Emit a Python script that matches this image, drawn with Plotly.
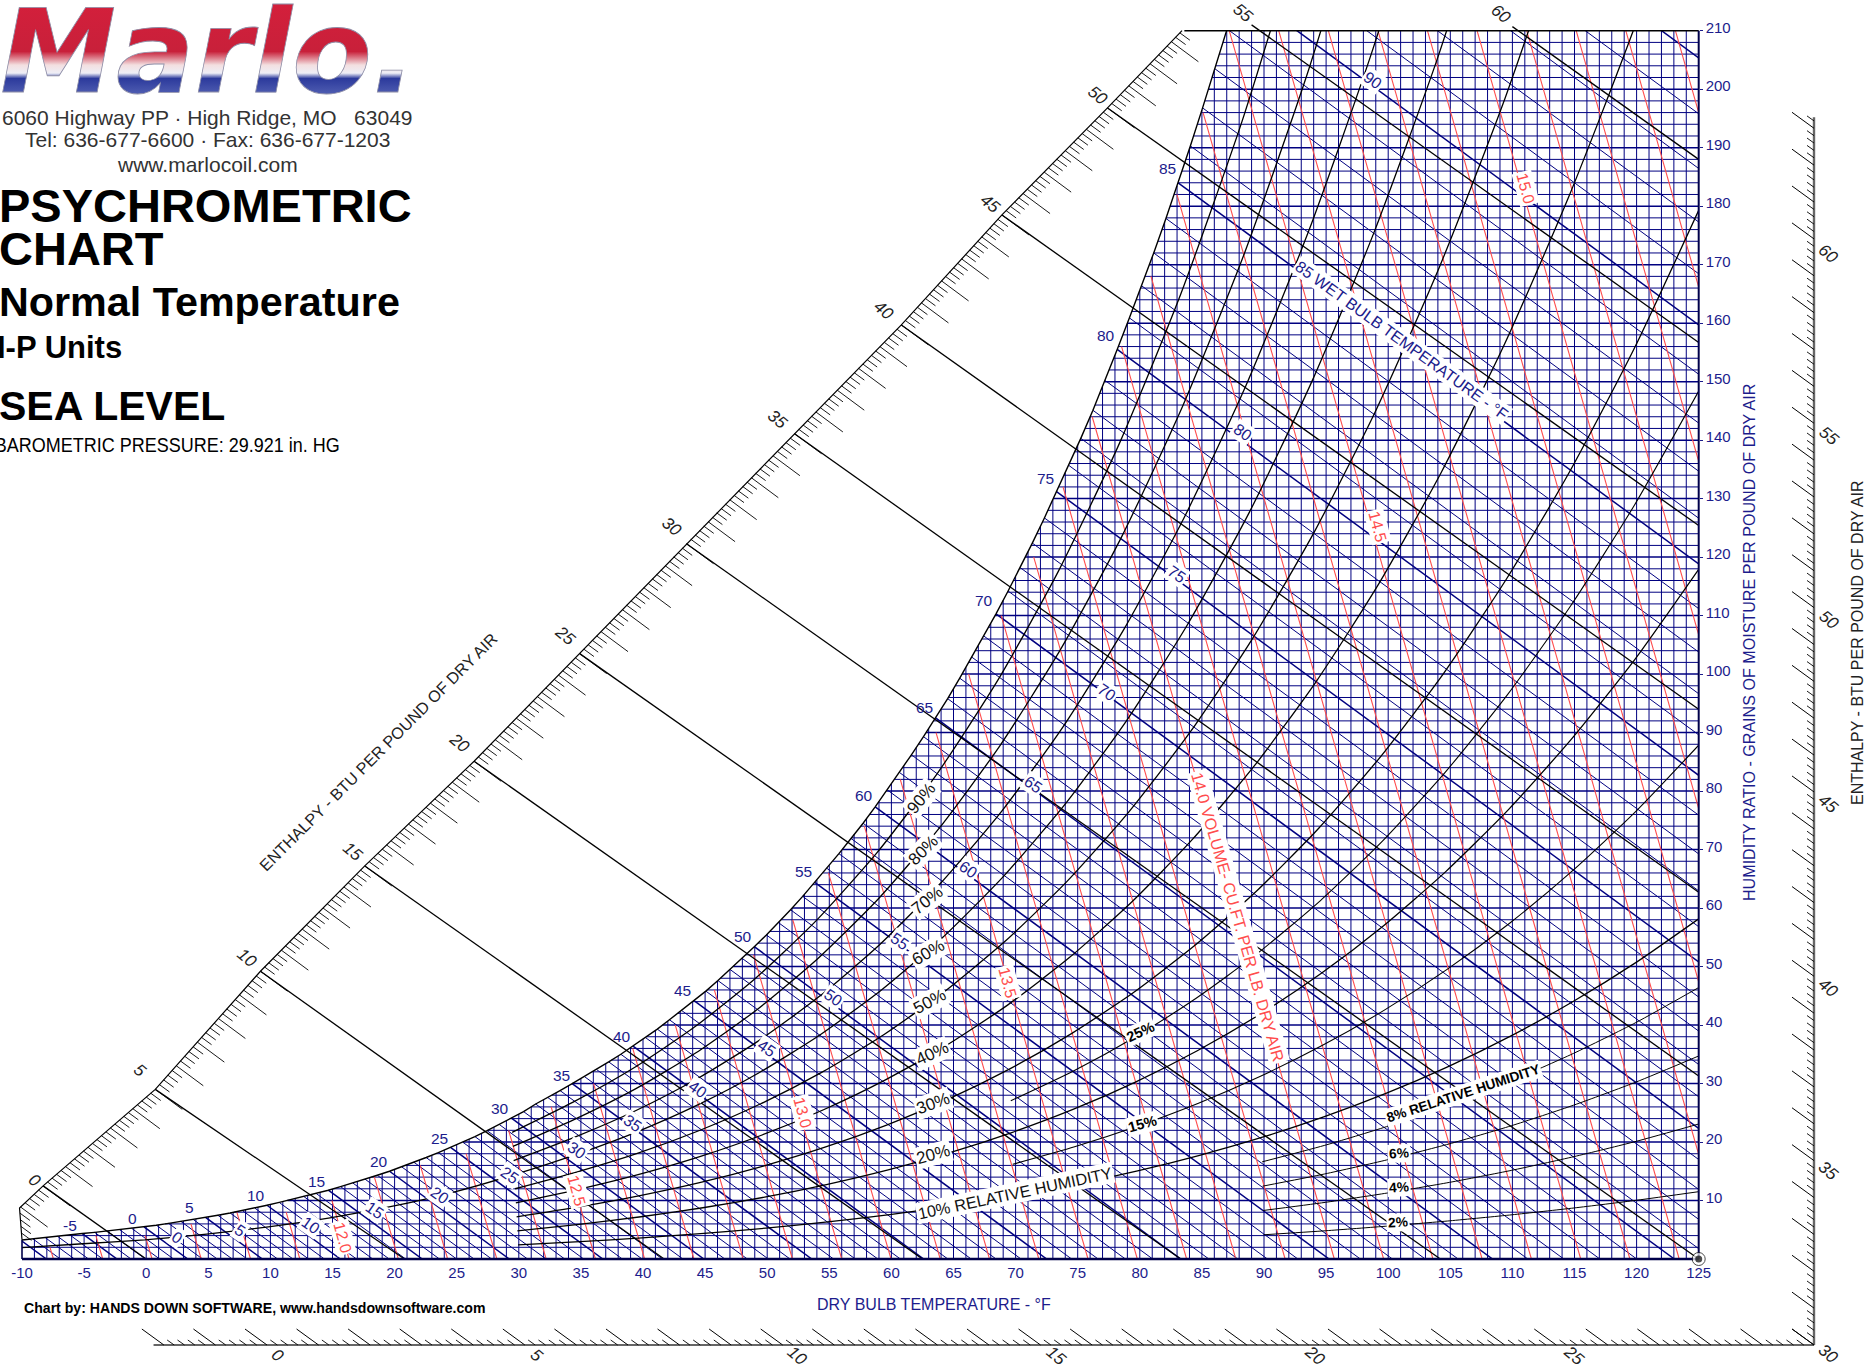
import numpy as np
import plotly.graph_objects as go

# ---------------- data ----------------
dry_bulb_ticks = list(range(-10, 130, 5))
grain_ticks = list(range(10, 220, 10))

# saturation: wet bulb (deg F) and grains per lb at saturation
sat_deg = list(range(-10, 99))
sat_grains = [3.23,3.43,3.65,3.87,4.10,4.35,4.56,4.80,5.05,5.25,5.48,5.78,6.09,6.42,6.76,7.11,7.48,7.87,8.28,8.72,
              9.19,9.67,10.17,10.69,11.22,11.76,12.38,13.00,13.65,14.32,15.0,15.75,16.54,17.35,18.2,19.07,19.98,20.93,21.94,23.0,
              24.1,25.2,26.5,27.6,28.8,30.0,31.2,32.4,33.7,35.0,36.4,37.9,39.3,40.9,42.5,44.2,45.8,47.6,49.5,51.4,
              53.4,55.4,57.5,59.7,62.0,64.4,66.8,69.3,71.9,74.5,77.3,80.2,83.2,86.2,89.3,92.5,95.8,99.3,102.9,106.5,
              110.3,114.2,118.2,122.4,126.7,131.2,135.7,140.3,145.1,150.2,155.5,160.9,166.4,172.0,177.9,184.0,190.3,196.8,203.5,210.3,
              217.2,224.4,231.7,239.3,247.1,255.1,263.3,271.7,280.4]

rh_t30 = list(range(30, 130, 5))
rh90 = [21.66,26.81,32.69,39.70,48.0,57.85,69.43,83.04,99.0,117.69,139.49,164.9,194.5,228.8]
rh80 = [19.24,23.82,29.04,35.25,42.62,51.34,61.6,73.66,87.78,104.3,123.55,145.97,172.0,202.2,237.2]
rh70 = [16.83,20.83,25.39,30.82,37.25,44.86,53.81,64.32,76.62,90.98,107.73,127.2,149.77,175.92,206.16,241.1]
rh60_low_t = [-10,-5,0,5,10,15,20,25]
rh60_low = [1.94,2.61,3.28,4.26,5.5,7.04,8.98,11.4]
rh60 = [14.42,17.84,21.75,26.39,31.89,38.39,46.04,55.0,65.51,77.76,92.01,108.57,127.74,149.92,175.52,205.06,239.07]
rh50 = [12.01,14.86,18.1,21.97,26.54,31.95,38.3,45.75,54.45,64.6,76.41,90.11,105.94,124.23,145.29,169.56,197.41,229.33]
rh40 = [9.6,11.87,14.47,17.55,21.2,25.52,30.58,36.52,43.45,51.53,60.91,71.78,84.34,98.81,115.46,134.6,156.51,181.55,209.98,242.38]
rh30 = [7.2,8.9,10.85,13.15,15.89,19.11,22.9,27.33,32.51,38.54,45.52,53.62,62.95,73.69,86.03,100.17,116.34,134.76,155.61,179.29]
rh20 = [4.8,5.93,7.22,8.76,10.58,12.73,15.24,18.19,21.62,25.61,30.25,35.6,41.77,48.85,56.98,66.27,76.87,88.92,102.52,117.91]
rh10 = [2.4,2.96,3.61,4.37,5.28,6.35,7.6,9.07,10.78,12.77,15.07,17.73,20.78,24.29,28.3,32.89,38.1,44.02,50.67,58.16]
rh_t70 = list(range(70, 130, 5))
rh25 = [27.06,32.06,37.88,44.59,52.33,61.24,71.45,83.16,96.52,111.72,128.91,148.39]
rh15 = [16.19,19.18,22.65,26.64,31.25,36.53,42.59,49.52,57.41,66.36,76.44,87.84]
rh_t90 = list(range(90, 130, 5))
rh8 = [16.61,19.41,22.62,26.27,30.43,35.14,40.43,46.41]
rh6 = [12.45,14.54,16.94,19.67,22.78,26.3,30.26,34.71]
rh4 = [8.29,9.68,11.28,13.1,15.16,17.5,20.12,23.08]
rh2 = [4.14,4.83,5.63,6.53,7.56,8.73,10.04,11.51]

# enthalpy: value, start on the left scale (T, W), end on the chart edge (T, W)
enth_value = [0,5,10,15,20,25,30,35,40,45,50,55,60]
enth_start_T = [-8.3,0.73,9.2,17.6,26.4,34.9,43.5,52.2,60.8,68.9,77.4,89.0,110.0]
enth_start_W = [12.5,29.0,49.2,67.2,85.1,103.5,122.3,141.1,159.7,178.5,196.8,211.0,210.7]
enth_end_T = [0,20.8,41.7,62.5,83.3,104.2,125,125,125,125,125,125,125]
enth_end_W = [0,0,0,0,0,0,0,31.3,62.7,94,125.4,156.7,188]
left_scale_h = [-2,-1.05,0,5,10,15,20,25,30,35,40,45,50,53.5]
left_scale_T = [-10,-10.2,-8.3,0.73,9.2,17.6,26.4,34.9,43.5,52.2,60.8,68.9,77.4,83.4]
left_scale_W = [3.3,8.7,12.5,29.0,49.2,67.2,85.1,103.5,122.3,141.1,159.7,178.5,196.8,210]

# specific volume: value and dry bulb where the line meets zero moisture
vol_value = [round(11.4+0.1*i,1) for i in range(41)]
vol_base_T = [-7.47,-3.5,.47,4.43,8.4,12.37,16.33,20.3,24.27,28.23,32.2,36.17,40.13,44.1,48.07,52.03,56.0,59.97,63.93,67.9,
              71.87,75.83,79.8,83.77,87.73,91.7,95.66,99.63,103.6,107.56,111.53,115.5,119.46,123.43,127.4,131.36,135.33,139.3,143.26,147.23,151.2]

WB_SLOPE = 1.555      # grains per deg F along a wet bulb line
TILT = 0.00026        # lean of the dry-bulb scale with moisture
NAVY = "#000080"; TXT = "#1c1c8c"; RED = "#ff4d4d"; FONT = "Liberation Sans"

# ---------------- geometry ----------------
L, R, T_, B = 22.0, 1698.7, 30.7, 1259.0
W_, H_ = 1873, 1365
SX = (R-L)/135.0; SY = (B-T_)/210.0
def px(x, y): return (x-L)/SX-10, (B-y)/SY
def lean(t, w): return np.asarray(t, float)-(125-np.asarray(t, float))*np.asarray(w, float)*TILT

sat_T = lean(sat_deg, sat_grains); sat_W = np.array(sat_grains)
def sat_T_at(w): return np.interp(w, sat_W, sat_T)
def sat_W_at(t): return np.interp(t, sat_T, sat_W)

fig = go.Figure()
def segs(xs, ys, color, width, clip=True):
    X, Y = [], []
    for a, b in zip(xs, ys):
        X += list(a)+[None]; Y += list(b)+[None]
    # clip=False traces go on the page-wide pair of axes, which share the chart's units
    fig.add_trace(go.Scatter(x=X, y=Y, mode="lines", line=dict(color=color, width=width),
                             xaxis="x" if clip else "x2", yaxis="y" if clip else "y2",
                             hoverinfo="skip", showlegend=False))

# grid
ws = list(range(2, 210, 2))
segs([[float(sat_T_at(w)), 125] for w in ws if w % 10], [[w, w] for w in ws if w % 10], NAVY, 1)
segs([[float(sat_T_at(w)), 125] for w in ws if not w % 10], [[w, w] for w in ws if not w % 10], NAVY, 1.5)
ts = [t for t in range(-9, 125)]
segs([[t, t] for t in ts], [[0, min(210, float(sat_W_at(t)))] for t in ts], NAVY, 1)

# wet bulb lines
def wb(deg):
    i = sat_deg.index(deg); t0, w0 = float(sat_T[i]), float(sat_W[i])
    t1 = t0+w0/WB_SLOPE
    if t1 > 125:
        return [t0, 125], [w0, w0-(125-t0)*WB_SLOPE]
    return [t0, t1], [w0, 0]
thin = [wb(d) for d in sat_deg if d % 5]; thick = [wb(d) for d in sat_deg if not d % 5]
segs([a for a, b in thin], [b for a, b in thin], NAVY, 1)
segs([a for a, b in thick], [b for a, b in thick], NAVY, 1.5)

# volume lines
vx, vy = [], []
wgrid = np.arange(0, 212, 2.0)
for t0 in vol_base_T:
    slope = (t0+459.67)*0.00023+(125-t0)*TILT
    tt = t0-slope*wgrid
    ok = tt >= sat_T_at(wgrid)
    n = int(np.argmin(ok)) if not ok.all() else len(wgrid)
    if n == 0:
        continue
    vx.append([t0, float(tt[n-1])]); vy.append([0, float(wgrid[n-1])])
segs(vx, vy, RED, 1.1)

# relative humidity curves
def rh_curve(ts_, ws_, width):
    n = len(ws_); t = np.array(ts_[:n], float); w = np.array(ws_, float)
    fig.add_trace(go.Scatter(x=lean(t, w), y=w, mode="lines", line=dict(color="black", width=width, shape="spline", smoothing=0.6),
                             hoverinfo="skip", showlegend=False))
for c in [rh90, rh80, rh70, rh50, rh40, rh30, rh20, rh10]:
    rh_curve(rh_t30, c, 1.3)
rh_curve(rh60_low_t+rh_t30, rh60_low+rh60, 1.3)
for c in [rh25, rh15]:
    rh_curve(rh_t70, c, 1.1)
for c in [rh8, rh6, rh4, rh2]:
    rh_curve(rh_t90, c, 1.0)

# saturation curve
i_top = int(np.argmax(sat_W > 210))
segs([list(sat_T[:i_top+1])], [list(sat_W[:i_top+1])], "black", 1.4)

# enthalpy lines and frame, on the page-wide axes
segs([[a, b] for a, b in zip(enth_start_T, enth_end_T)], [[a, b] for a, b in zip(enth_start_W, enth_end_W)], "black", 1.3, clip=False)
segs([[float(sat_T_at(210))-3.4, 125]], [[210, 210]], "black", 1.6, clip=False)
segs([[-10, 125]], [[0, 0]], "#00004a", 2.4, clip=False)
segs([[125, 125]], [[0, 210]], "#00004a", 2, clip=False)
segs([[-10, -10]], [[0, 3.3]], "#00004a", 1.6, clip=False)

# left enthalpy scale
segs([left_scale_T], [left_scale_W], "black", 1.2, clip=False)
hs_long = [h for h in range(-1, 54)]
hs_short = [round(-1.8+0.2*i, 1) for i in range(277) if round((-1.8+0.2*i)*5) % 5]
def lst(h): return float(np.interp(h, left_scale_h, left_scale_T)), float(np.interp(h, left_scale_h, left_scale_W))
def tick_l(hs, dx, dy):
    P = [lst(h) for h in hs]
    return [[p[0], p[0]+dx/SX] for p in P], [[p[1], p[1]-dy/SY] for p in P]
a, b = tick_l(hs_short, 10, 7.3); segs(a, b, "black", 0.9, clip=False)
a, b = tick_l(hs_long, 27, 20); segs(a, b, "black", 0.9, clip=False)

# right & bottom enthalpy scales
RX, BY = 1814.0, 1345.0
rt, bw = px(RX, BY)
def bot_T(h): return px(267+h*51.57, BY)[0]
def rgt_W(h): return px(RX, BY-(h-30)*36.87)[1]
rtop = 63.3
segs([[bot_T(-2.2), rt]], [[bw, bw]], "#333333", 1.4, clip=False)
segs([[rt, rt]], [[bw, rgt_W(rtop)]], "#666666", 2.4, clip=False)
for step, dx, dy, wd in [(1, 22, 16, 1.0), (0.2, 7, 5, 0.9)]:
    hb = [h for h in np.arange(-2.0, 30.01, 0.2) if (step == 1) == (abs(h-round(h)) < 1e-6)]
    hr = [h for h in np.arange(30.0, rtop+0.01, 0.2) if (step == 1) == (abs(h-round(h)) < 1e-6)]
    segs([[bot_T(h), bot_T(h)-dx/SX] for h in hb], [[bw, bw+dy/SY] for h in hb], "black", wd, clip=False)
    segs([[rt, rt-dx/SX] for h in hr], [[rgt_W(h), rgt_W(h)+dy/SY] for h in hr], "black", wd, clip=False)

# reference point
fig.add_trace(go.Scatter(x=[125, 125], y=[0, 0], mode="markers", xaxis="x2", yaxis="y2", hoverinfo="skip", showlegend=False,
                         marker=dict(size=[13, 7], color=["white", "black"], line=dict(color="black", width=[1, 0]))))

# ---------------- text ----------------
def label(text, x, y, size, color, angle=0, bg=None, bold=False, italic=False, anchor="center", family=FONT, pad=1):
    fig.add_annotation(x=x/W_, y=1-y/H_, xref="paper", yref="paper", text=f"<b>{text}</b>" if bold else text, showarrow=False,
                       textangle=angle, xanchor=anchor, yanchor="middle", bgcolor=bg, borderpad=pad,
                       font=dict(family=family, size=size, color=color, style="italic" if italic else "normal"))

label("Marlo.", 208, 52, 116, "#c8202f", family="DejaVu Sans", bold=True, italic=True)
label("6060 Highway PP · High Ridge, MO   63049", 207, 117, 21, "#333333")
label("Tel: 636-677-6600 · Fax: 636-677-1203", 207, 140, 21, "#333333")
label("www.marlocoil.com", 207, 164, 21, "#333333")
label("PSYCHROMETRIC", -3, 205, 47, "black", bold=True, anchor="left")
label("CHART", -3, 248, 47, "black", bold=True, anchor="left")
label("Normal Temperature", -3, 302, 41.3, "black", bold=True, anchor="left")
label("I-P Units", -5, 347, 31, "black", bold=True, anchor="left")
label("SEA LEVEL", -3, 406, 41, "black", bold=True, anchor="left")
label("BAROMETRIC PRESSURE: 29.921 in. HG", 167, 445, 21, "black")
label("Chart by: HANDS DOWN SOFTWARE, www.handsdownsoftware.com", 22, 1308, 14.1, "black", bold=True, anchor="left")
label("DRY BULB TEMPERATURE - °F", 934, 1304, 16, TXT)
label("HUMIDITY RATIO - GRAINS OF MOISTURE PER POUND OF DRY AIR", 1749, 643, 16.1, TXT, angle=-90)
label("ENTHALPY - BTU PER POUND OF DRY AIR", 1857, 643, 16, "#222222", angle=-90)
label("ENTHALPY - BTU PER POUND OF DRY AIR", 378, 752, 16.2, "#222222", angle=-45)

K = 1.1945
for v, x, y in [(0,35,1180),(5,117*K,896*K),(10,206*K,802*K),(15,295*K,713*K),(20,384*K,622*K),(25,473*K,532*K),(30,562*K,441*K),(35,651*K,351*K),
                (40,740*K,260*K),(45,829*K,170*K),(50,919*K,80*K),(55,1242,13),(60,1500,14),
                (60,1828,253),(55,1828,436),(50,1828,620),(45,1828,803),(40,1828,987),(35,1828,1170),(30,1828,1353),
                (0,278,1355),(5,537,1355),(10,797,1355),(15,1056,1355),(20,1315,1355),(25,1574,1355)]:
    label(str(v), x, y, 17, "#222222", angle=40, italic=True)

for v, x, y in [(-5,59,1026),(0,111,1020),(5,159,1011),(10,214,1001),(15,265,989),(20,317,972),(25,368,953),(30,419,928),(35,470,900),
                (40,521,868),(45,571,829),(50,622,784),(55,673,730),(60,723,666),(65,774,592),(70,824,503),(75,875,401),(80,926,281),(85,977,141)]:
    label(str(v), x*K, y*K, 15.5, TXT)

for v, x, y in [(0,177,1237),(5,240,1230),(10,311,1225),(15,375,1210),(20,440,1195),(25,510,1175),(30,577,1150),(35,633,1123),(40,698,1089),
                (45,767,1048),(50,833,998),(55,900,941),(60,968,870),(65,1033,785),(70,1107,692),(75,1177,574),(80,1243,432),(90,1373,80)]:
    label(str(v), x, y, 16, TXT, angle=35, bg="white")
label("85 WET BULB TEMPERATURE - °F", 1402, 340, 16, TXT, angle=36, bg="white")

for v, x, y in [("12.0",343,1237),("12.5",577,1190),("13.0",803,1112),("13.5",1008,982),("14.5",1378,526),("15.0",1525,188)]:
    label(v, x, y, 16, RED, angle=75, bg="white")
label("14.0 VOLUME- CU.FT. PER LB. DRY AIR", 1238, 917, 16.2, RED, angle=74, bg="white")

for v, x, y, ang in [("90%",921,798,-50),("80%",923,850,-45),("70%",927,900,-38),("60%",928,952,-30),("50%",930,1002,-28),
                     ("40%",932,1053,-25),("30%",933,1103,-20),("20%",933,1154,-15)]:
    label(v, x, y, 17, "#111111", angle=ang, bg="white")
label("10% RELATIVE HUMIDITY", 1015, 1193, 16.3, "#111111", angle=-12, bg="white")
label("25%", 1140, 1032, 14.5, "black", angle=-25, bg="white", bold=True)
label("15%", 1142, 1124, 14.5, "black", angle=-15, bg="white", bold=True)
label("8% RELATIVE HUMIDITY", 1463, 1093, 13.7, "black", angle=-18, bg="white", bold=True)
label("6%", 1399, 1153, 13.7, "black", angle=-3, bg="white", bold=True)
label("4%", 1399, 1187, 13.7, "black", angle=-3, bg="white", bold=True)
label("2%", 1398, 1222, 13.7, "black", angle=-3, bg="white", bold=True)

page_x = [px(0, 0)[0], px(W_, 0)[0]]
page_y = [px(0, H_)[1], px(0, 0)[1]]
fig.update_layout(
    width=W_, height=H_, autosize=False, paper_bgcolor="white", plot_bgcolor="rgba(0,0,0,0)", showlegend=False,
    margin=dict(l=0, r=0, t=0, b=0, pad=0, autoexpand=False),
    xaxis=dict(domain=[L/W_, R/W_], range=[-10, 125], tickmode="array", tickvals=dry_bulb_ticks, ticktext=[str(v) for v in dry_bulb_ticks],
               showgrid=False, zeroline=False, showline=False, ticks="", tickangle=0, ticklabelstandoff=3,
               tickfont=dict(family=FONT, size=15, color=TXT), anchor="y"),
    yaxis=dict(domain=[(H_-B)/H_, (H_-T_)/H_], range=[0, 210], side="right", tickmode="array", tickvals=grain_ticks, ticktext=[str(v) for v in grain_ticks],
               showgrid=False, zeroline=False, showline=False, ticks="outside", ticklen=3, tickcolor=TXT, ticklabelshift=-3,
               tickfont=dict(family=FONT, size=15, color=TXT), anchor="x"),
    xaxis2=dict(domain=[0, 1], range=page_x, visible=False, anchor="y2", fixedrange=True),
    yaxis2=dict(domain=[0, 1], range=page_y, visible=False, anchor="x2", fixedrange=True),
)

post = """
document.documentElement.style.overflow='hidden';
document.body.style.margin='0';
var gd=document.getElementById('{plot_id}');
var NS='http://www.w3.org/2000/svg';
var svg=gd.querySelector('svg.main-svg');
var d=document.createElementNS(NS,'defs');
var g=document.createElementNS(NS,'linearGradient');
g.setAttribute('id','marlograd');g.setAttribute('x1','0');g.setAttribute('y1','0');g.setAttribute('x2','0');g.setAttribute('y2','1');
[[0.0,'#d81f3c'],[0.5,'#c8203a'],[0.6,'#f3dfe0'],[0.66,'#eeeef6'],[0.7,'#2c3a9c'],[0.85,'#5a68b8'],[1,'#c0c4e0']].forEach(function(s){
 var st=document.createElementNS(NS,'stop');st.setAttribute('offset',s[0]);st.setAttribute('stop-color',s[1]);g.appendChild(st);});
d.appendChild(g);svg.appendChild(d);
gd.querySelectorAll('.annotation-text').forEach(function(t){
 if(t.textContent.indexOf('Marlo')===0){
  t.style.fill='url(#marlograd)';t.style.stroke='#8f8fa8';t.style.strokeWidth='0.8px';
  t.setAttribute('textLength','416');t.setAttribute('lengthAdjust','spacingAndGlyphs');
 }
 if(t.textContent.indexOf('BAROMETRIC')===0){
  t.setAttribute('textLength','345');t.setAttribute('lengthAdjust','spacingAndGlyphs');
 }
});
"""
fig.write_html("out.html", post_script=post, config=dict(displayModeBar=False))
